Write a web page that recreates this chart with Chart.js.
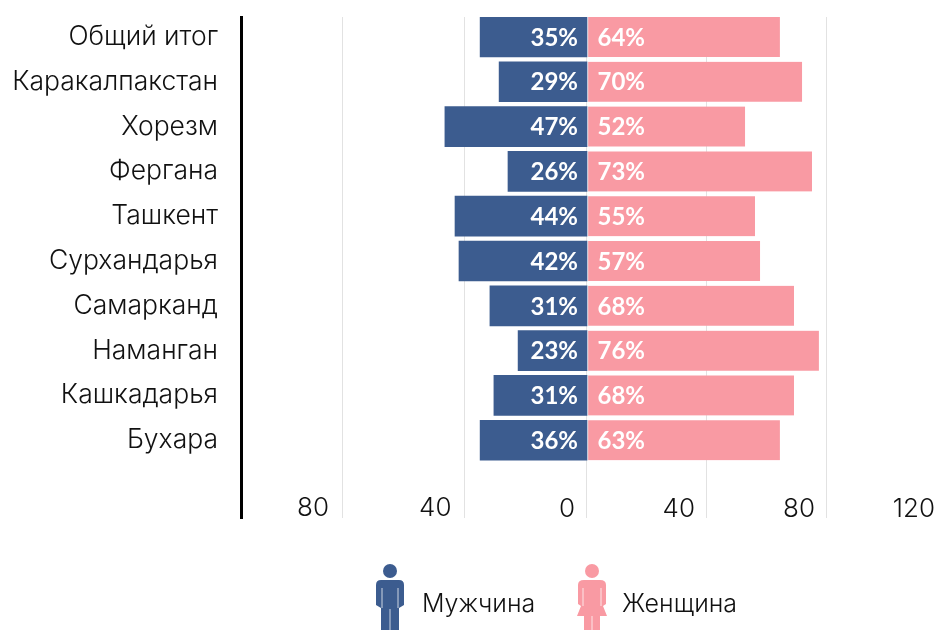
<!DOCTYPE html>
<html lang="ru">
<head>
<meta charset="utf-8">
<title>Мужчина / Женщина</title>
<script src="https://cdn.jsdelivr.net/npm/chart.js@4"></script>
<style>
    html, body { margin: 0; width: 937px; height: 630px; overflow: hidden; background: #fff; }
    body { position: relative; font-family: Inter, "Noto Sans", sans-serif; color: #111; }
    canvas { position: absolute; left: 0; top: 0; }
    .legend-item { position: absolute; top: 564px; height: 66px; }
    .legend-item svg { position: absolute; left: 0; top: 0; }
    .legend-item span { position: absolute; top: 24px; line-height: 30px; font-size: 25px; font-weight: 300; white-space: nowrap; }
</style>
</head>
<body>
<canvas id="chart" width="960" height="630"></canvas>

<div class="legend-item" style="left:376px">
    <svg width="30" height="66" viewBox="0 0 30 66">
        <circle cx="14" cy="7" r="7" fill="#3c5c8f"/>
        <path d="M5 16 H23 Q28 16 28 21 V41 L23 44 V66 H5 V44 L0 41 V21 Q0 16 5 16 Z" fill="#3c5c8f"/>
        <path d="M6 24 V44 M22 24 V44 M14 45 V66" stroke="#fff" stroke-opacity=".75" fill="none"/>
    </svg>
    <span id="legend-men" style="left:46px"></span>
</div>
<div class="legend-item" style="left:577px">
    <svg width="30" height="66" viewBox="0 0 30 66">
        <circle cx="15" cy="7" r="7" fill="#f99aa3"/>
        <path d="M7 16 H23 Q29 16 29 21 V40 L26 42 L30 52 H23 V66 H7 V52 H0 L4 42 L1 40 V21 Q1 16 7 16 Z" fill="#f99aa3"/>
        <path d="M6 24 V42 M24 24 V42 M15 52 V66" stroke="#fff" stroke-opacity=".75" fill="none"/>
    </svg>
    <span id="legend-women" style="left:45px"></span>
</div>

<script>
const regions = ['Общий итог', 'Каракалпакстан', 'Хорезм', 'Фергана', 'Ташкент', 'Сурхандарья', 'Самарканд', 'Наманган', 'Кашкадарья', 'Бухара'];
const menValues = [34.9, 28.7, 46.4, 25.8, 43.1, 41.8, 31.7, 22.5, 30.4, 34.9];
const womenValues = [64.3, 71.7, 52.7, 75, 56, 57.7, 69, 77.3, 69, 64.3];
const menLabels = ['35%', '29%', '47%', '26%', '44%', '42%', '31%', '23%', '31%', '36%'];
const womenLabels = ['64%', '70%', '52%', '73%', '55%', '57%', '68%', '76%', '68%', '63%'];
const menTicks = [-80, -40];
const womenTicks = [0, 40, 80, 120];
const seriesNames = ['Мужчина', 'Женщина'];

const NAVY = '#3c5c8f';
const PINK = '#f99aa3';
const FONT = 'Inter, "Noto Sans", sans-serif';

document.getElementById('legend-men').textContent = seriesNames[0];
document.getElementById('legend-women').textContent = seriesNames[1];

// Procenten in de balken (de getoonde labels wijken af van de balklengte)
const barLabels = {
    id: 'barLabels',
    afterDatasetsDraw(chart) {
        const ctx = chart.ctx;
        ctx.save();
        ctx.font = '700 24px Lato, ' + FONT;
        ctx.fillStyle = '#fff';
        ctx.textBaseline = 'middle';
        chart.getDatasetMeta(0).data.forEach((bar, i) => {
            ctx.textAlign = 'right';
            ctx.fillText(menLabels[i], bar.base - 9, bar.y + 1);
        });
        chart.getDatasetMeta(1).data.forEach((bar, i) => {
            ctx.textAlign = 'left';
            ctx.fillText(womenLabels[i], bar.base + 10, bar.y + 1);
        });
        ctx.restore();
    }
};

// mirror: anders knipt Chart.js de labels af op de hoogte van de as
function bottomAxis(min, max, values, labelOffset) {
    return {
        type: 'linear',
        position: 'bottom',
        min,
        max,
        afterBuildTicks: scale => { scale.ticks = values.map(value => ({ value })); },
        afterFit: scale => { scale.height = 1; scale.paddingLeft = 0; scale.paddingRight = 0; },
        border: { display: false },
        grid: { color: '#e2e2e2', lineWidth: 1, drawTicks: false },
        ticks: {
            autoSkip: false,
            maxRotation: 0,
            mirror: true,
            align: 'end',
            labelOffset,
            padding: -6,
            color: '#111',
            font: { family: FONT, size: 26, weight: 300 },
            callback: value => String(Math.abs(value))
        }
    };
}

new Chart(document.getElementById('chart'), {
    type: 'bar',
    plugins: [barLabels],
    data: {
        datasets: [
            {
                label: seriesNames[0],
                data: menValues.map((v, i) => ({ x: -v, y: i })),
                backgroundColor: NAVY,
                xAxisID: 'xMen',
                grouped: false,
                barThickness: 40
            },
            {
                label: seriesNames[1],
                data: womenValues.map((v, i) => ({ x: v, y: i })),
                backgroundColor: PINK,
                borderColor: '#fff',
                borderWidth: { left: 1, right: 0, top: 0, bottom: 0 },
                borderSkipped: false,
                xAxisID: 'xWomen',
                grouped: false,
                barThickness: 40
            }
        ]
    },
    options: {
        indexAxis: 'y',
        responsive: false,
        animation: false,
        layout: { padding: { top: 17, right: 13, bottom: 110, left: 0 } },
        plugins: { legend: { display: false }, tooltip: { enabled: false } },
        scales: {
            y: {
                type: 'linear',
                reverse: true,
                offset: false,
                min: -0.445,
                max: 10.735,
                afterBuildTicks: scale => { scale.ticks = regions.map((_, i) => ({ value: i })); },
                afterFit: scale => { scale.width = 241; scale.paddingTop = 0; scale.paddingBottom = 0; },
                border: { color: '#000', width: 3 },
                grid: { display: false, drawTicks: false },
                ticks: {
                    autoSkip: false,
                    padding: 23,
                    color: '#111',
                    font: { family: FONT, size: 26.5, weight: 300 },
                    callback: value => regions[value]
                }
            },
            xMen: bottomAxis(-112.98, 117.55, menTicks, -13),
            xWomen: bottomAxis(-115.33, 120, womenTicks, -12)
        }
    }
});
</script>
</body>
</html>
